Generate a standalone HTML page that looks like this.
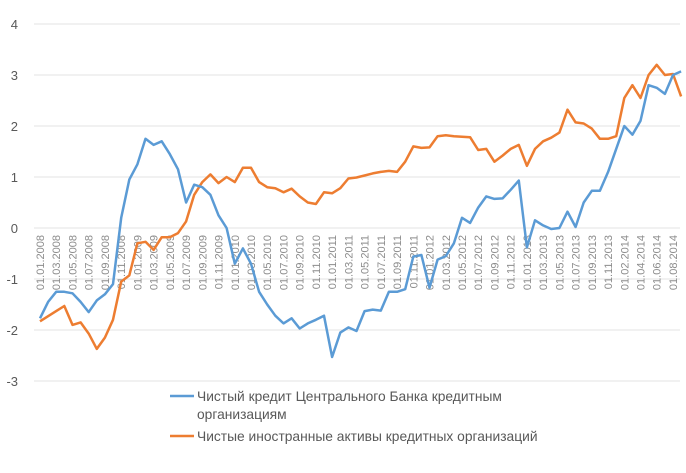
<!DOCTYPE html>
<html><head><meta charset="utf-8"><style>
html,body{margin:0;padding:0;background:#fff}
svg{display:block;font-family:"Liberation Sans","DejaVu Sans",sans-serif}
</style></head><body>
<svg id="chart" width="686" height="473" viewBox="0 0 686 473" xmlns="http://www.w3.org/2000/svg">
<g id="grid"></g>
<g id="yticks"></g>
<g id="xticks"></g>
<g id="series"></g>
<g>
<g>
<line x1="170" y1="396" x2="194" y2="396" stroke="#5B9BD5" stroke-width="2.5"/>
<text x="197" y="401" font-size="13.8" fill="#595959">Чистый кредит Центрального Банка кредитным</text>
<text x="197" y="419" font-size="13.8" fill="#595959">организациям</text>
</g>
<g>
<line x1="170" y1="436" x2="194" y2="436" stroke="#ED7D31" stroke-width="2.5"/>
<text x="197" y="441" font-size="13.8" fill="#595959">Чистые иностранные активы кредитных организаций</text>
</g>
</g>
</svg>
<script>
const yTicks=[4,3,2,1,0,-1,-2,-3];
const xLabels=["01.01.2008","01.03.2008","01.05.2008","01.07.2008","01.09.2008","01.11.2008","01.01.2009","01.03.2009","01.05.2009","01.07.2009","01.09.2009","01.11.2009","01.01.2010","01.03.2010","01.05.2010","01.07.2010","01.09.2010","01.11.2010","01.01.2011","01.03.2011","01.05.2011","01.07.2011","01.09.2011","01.11.2011","01.01.2012","01.03.2012","01.05.2012","01.07.2012","01.09.2012","01.11.2012","01.01.2013","01.03.2013","01.05.2013","01.07.2013","01.09.2013","01.11.2013","01.02.2014","01.04.2014","01.06.2014","01.08.2014"];
const cbCredit=[-1.77,-1.45,-1.25,-1.25,-1.28,-1.45,-1.65,-1.42,-1.3,-1.1,0.2,0.95,1.25,1.75,1.63,1.7,1.45,1.15,0.5,0.85,0.8,0.65,0.25,0.0,-0.7,-0.4,-0.7,-1.25,-1.5,-1.72,-1.87,-1.77,-1.97,-1.87,-1.8,-1.72,-2.53,-2.05,-1.95,-2.02,-1.63,-1.6,-1.62,-1.25,-1.25,-1.2,-0.56,-0.53,-1.17,-0.62,-0.55,-0.3,0.2,0.1,0.4,0.62,0.57,0.58,0.75,0.93,-0.38,0.15,0.05,-0.02,0.0,0.32,0.02,0.5,0.73,0.73,1.1,1.55,2.0,1.83,2.1,2.8,2.75,2.63,3.0,3.07];
const foreignAssets=[-1.83,-1.73,-1.63,-1.53,-1.9,-1.85,-2.07,-2.37,-2.15,-1.8,-1.05,-0.93,-0.3,-0.27,-0.43,-0.18,-0.18,-0.1,0.13,0.65,0.9,1.05,0.88,1.0,0.9,1.18,1.18,0.9,0.8,0.78,0.7,0.77,0.62,0.5,0.47,0.7,0.68,0.78,0.97,0.99,1.03,1.07,1.1,1.12,1.1,1.3,1.6,1.57,1.58,1.8,1.82,1.8,1.79,1.78,1.53,1.55,1.3,1.42,1.55,1.63,1.22,1.55,1.7,1.77,1.87,2.32,2.07,2.05,1.95,1.75,1.75,1.8,2.55,2.8,2.55,3.0,3.2,3.0,3.02,2.58];
const labelIdx=[];for(let k=0;k<36;k++)labelIdx.push(k*2);labelIdx.push(72,74,76,78);
const NS="http://www.w3.org/2000/svg";
const x=i=>40+i*8.115;
const y=v=>228-v*51;
function mk(tag,attrs,parent){const e=document.createElementNS(NS,tag);for(const k in attrs)e.setAttribute(k,attrs[k]);parent.appendChild(e);return e;}
const grid=document.getElementById('grid'),yt=document.getElementById('yticks'),xt=document.getElementById('xticks'),ser=document.getElementById('series');
yTicks.forEach(v=>{
 const l=mk('line',{x1:34,x2:680,y1:y(v),y2:y(v),stroke:'#e3e3e3','stroke-width':1},grid);
 
 
 const t=mk('text',{x:18,y:y(v)+5,'text-anchor':'end','font-size':13,fill:'#595959'},yt);
 
 
 t.textContent=String(v);
});
xLabels.forEach((s,k)=>{
 const xx=x(labelIdx[k])+4;
 const t=mk('text',{x:0,y:0,transform:`translate(${xx},235) rotate(-90)`,'text-anchor':'end','font-size':11,fill:'#8c8c8c'},xt);
 
 
 t.textContent=s;
});
function line(data,color,name){
 const p=mk('polyline',{points:data.map((v,i)=>x(i).toFixed(1)+','+y(v).toFixed(1)).join(' '),fill:'none',stroke:color,'stroke-width':2.5,'stroke-linejoin':'round'},ser);
 
 
}
line(foreignAssets,'#ED7D31','foreign-assets-line');
line(cbCredit,'#5B9BD5','cb-credit-line');
</script>
</body></html>
